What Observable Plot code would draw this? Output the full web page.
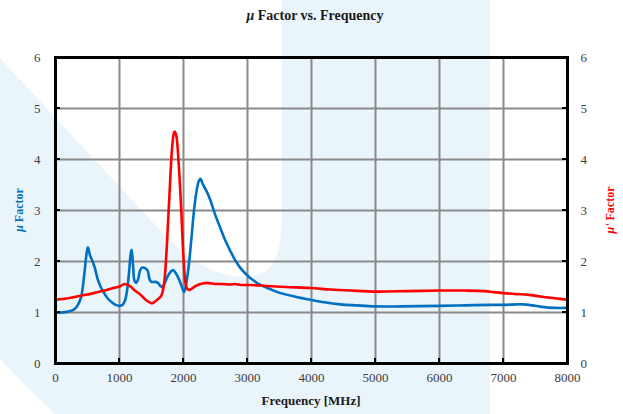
<!DOCTYPE html>
<html>
<head>
<meta charset="utf-8">
<script src="https://cdn.jsdelivr.net/npm/d3@7"></script>
<script src="https://cdn.jsdelivr.net/npm/@observablehq/plot@0.6"></script>
<style>
  html, body { margin: 0; padding: 0; background: #fff; }
  #wrap { position: relative; width: 623px; height: 414px; overflow: hidden; }
  #bg, #chart svg { position: absolute; left: 0; top: 0; }
  #chart svg text { font-family: 'Liberation Serif', 'Times New Roman', serif; }
</style>
</head>
<body>
<div id="wrap">
  <svg id="bg" width="623" height="414">
    <path fill="#EAF4FB" fill-rule="evenodd"
      d="M490,-5 L490,470 L120,470 Q20,390 -60,290 L-60,-5 Z
         M282,-5 L282,215 C282,258 272,277 245,277 C215,277 190,262 160,230 L-59,-5 Z"/>
  </svg>
  <div id="chart"></div>
</div>
<script>
// Frequency [MHz] and μ Factor (blue series)
const blueFreq = [0,100,200,300,350,400,450,480,505,540,580,620,660,700,760,820,880,940,1000,1050,1090,1120,1150,1175,1190,1210,1235,1260,1290,1320,1350,1400,1440,1470,1500,1560,1600,1640,1670,1700,1750,1800,1840,1880,1930,1970,2010,2040,2080,2120,2160,2200,2240,2266,2300,2360,2420,2500,2578,2650,2734,2810,2891,2970,3047,3125,3203,3350,3516,3750,3984,4200,4453,4700,5000,5400,6000,6400,6800,7000,7300,7450,7600,7800,8000];
const blueVal  = [1.00,1.00,1.02,1.07,1.15,1.30,1.75,2.10,2.28,2.12,2.00,1.85,1.65,1.52,1.38,1.27,1.20,1.15,1.13,1.15,1.25,1.45,1.80,2.15,2.23,1.95,1.62,1.58,1.65,1.82,1.88,1.87,1.82,1.65,1.60,1.60,1.58,1.52,1.49,1.56,1.70,1.80,1.83,1.77,1.65,1.52,1.40,1.55,1.90,2.40,2.95,3.35,3.58,3.62,3.52,3.38,3.20,2.90,2.65,2.42,2.20,2.02,1.87,1.76,1.67,1.60,1.54,1.46,1.38,1.31,1.25,1.20,1.16,1.14,1.12,1.12,1.13,1.14,1.15,1.15,1.16,1.14,1.11,1.09,1.09];
// Frequency [MHz] and μ' Factor (red series)
const redFreq = [0,200,400,600,700,800,900,1000,1078,1130,1172,1250,1328,1400,1470,1510,1560,1620,1660,1700,1730,1760,1786,1820,1850,1865,1890,1910,1940,1965,1990,2010,2031,2060,2085,2130,2180,2240,2300,2370,2500,2600,2734,2800,2900,3047,3300,3600,3984,4300,4609,5026,5500,6016,6400,6703,6850,7000,7200,7370,7600,7800,8000];
const redVal  = [1.25,1.28,1.33,1.38,1.41,1.44,1.48,1.51,1.56,1.54,1.51,1.42,1.35,1.26,1.20,1.18,1.22,1.28,1.35,1.60,2.10,2.80,3.44,4.20,4.52,4.55,4.45,4.20,3.60,3.00,2.30,1.85,1.58,1.46,1.44,1.47,1.51,1.55,1.57,1.58,1.56,1.56,1.55,1.56,1.54,1.54,1.52,1.50,1.48,1.45,1.43,1.41,1.42,1.43,1.43,1.42,1.40,1.38,1.36,1.35,1.31,1.28,1.25];
const xTicks = [0,1000,2000,3000,4000,5000,6000,7000,8000];
const yTicks = [0,1,2,3,4,5,6];

const blue = blueFreq.map((f, i) => ({f, v: blueVal[i]}));
const red = redFreq.map((f, i) => ({f, v: redVal[i]}));

const font = "'Liberation Serif', 'Times New Roman', serif";
const W = 623, H = 414, mL = 55, mR = 56, mT = 57, mB = 51;
const fmt = d => String(d);

const chart = Plot.plot({
  width: W, height: H,
  marginLeft: mL, marginRight: mR, marginTop: mT, marginBottom: mB,
  style: {background: "transparent", fontFamily: font, overflow: "visible"},
  x: {domain: [0, 8000]},
  y: {domain: [0, 6]},
  marks: [
    Plot.gridX(xTicks, {stroke: "#8a8a8a", strokeOpacity: 1, strokeWidth: 2}),
    Plot.gridY(yTicks, {stroke: "#8a8a8a", strokeOpacity: 1, strokeWidth: 2}),
    Plot.line(blue, {x: "f", y: "v", stroke: "#0070C0", strokeWidth: 2.6, curve: "catmull-rom"}),
    Plot.line(red, {x: "f", y: "v", stroke: "#FF0000", strokeWidth: 2.6, curve: "catmull-rom"}),
    Plot.axisY(yTicks, {anchor: "left", tickSize: 0, tickPadding: 15, fontSize: 13, fontFamily: font, fill: "#404040", label: null, tickFormat: fmt}),
    Plot.axisY(yTicks, {anchor: "right", tickSize: 0, tickPadding: 13, fontSize: 13, fontFamily: font, fill: "#404040", label: null, tickFormat: fmt}),
    Plot.axisX(xTicks, {anchor: "bottom", tickSize: 0, tickPadding: 9, fontSize: 13, fontFamily: font, fill: "#404040", label: null, tickFormat: fmt}),
    Plot.frame({stroke: "black", strokeWidth: 3})
  ]
});
document.getElementById("chart").appendChild(chart);

const svg = d3.select(chart);
// inward tick marks
const xs = chart.scale("x"), ys = chart.scale("y");
const g = svg.append("g").attr("stroke", "black").attr("stroke-width", 2);
yTicks.slice(1, -1).forEach(t => {
  const y = ys.apply(t);
  g.append("line").attr("x1", mL).attr("x2", mL + 5).attr("y1", y).attr("y2", y);
  g.append("line").attr("x1", W - mR).attr("x2", W - mR - 5).attr("y1", y).attr("y2", y);
});
xTicks.slice(1, -1).forEach(t => {
  const x = xs.apply(t);
  g.append("line").attr("x1", x).attr("x2", x).attr("y1", H - mB).attr("y2", H - mB - 5);
});

// title
const title = svg.append("text").attr("x", 315).attr("y", 20).attr("text-anchor", "middle")
  .attr("font-family", font).attr("font-size", 14).attr("font-weight", "bold").attr("fill", "#1a1a1a");
title.append("tspan").attr("font-style", "italic").text("μ");
title.append("tspan").text(" Factor vs. Frequency");

// x label
svg.append("text").attr("x", 311).attr("y", 405).attr("text-anchor", "middle")
  .attr("font-family", font).attr("font-size", 13).attr("font-weight", "bold").attr("fill", "#1a1a1a")
  .text("Frequency [MHz]");

// left y label
const yl = svg.append("text").attr("transform", "translate(23,210) rotate(-90)").attr("text-anchor", "middle")
  .attr("font-family", font).attr("font-size", 12).attr("font-weight", "bold").attr("fill", "#0070C0");
yl.append("tspan").attr("font-style", "italic").text("μ");
yl.append("tspan").text(" Factor");

// right y label
const yr = svg.append("text").attr("transform", "translate(614,210) rotate(-90)").attr("text-anchor", "middle")
  .attr("font-family", font).attr("font-size", 12).attr("font-weight", "bold").attr("fill", "#FF0000");
yr.append("tspan").attr("font-style", "italic").text("μ'");
yr.append("tspan").text(" Factor");
</script>
</body>
</html>
